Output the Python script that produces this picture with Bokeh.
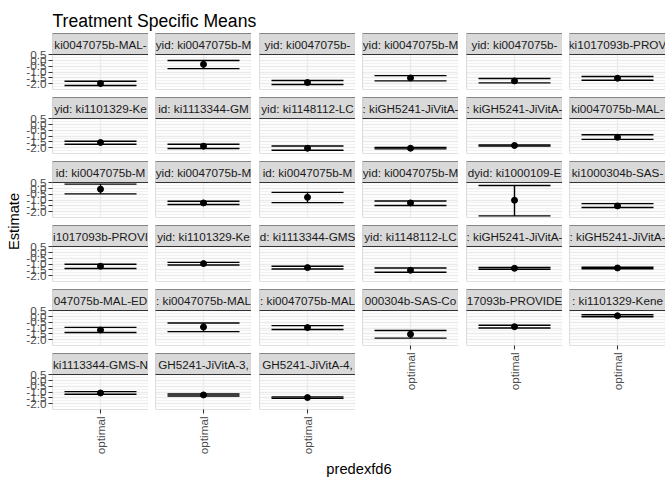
import numpy as np
from bokeh.plotting import figure
from bokeh.layouts import row, column
from bokeh.models import (Range1d, FactorRange, FixedTicker, PrintfTickFormatter,
                          Whisker, TeeHead, ColumnDataSource, BoxAnnotation)
from bokeh.embed import file_html
from bokeh.resources import INLINE
from bokeh.core.properties import value

# ---------------- data ----------------
TITLE = "Treatment Specific Means"
X_TITLE = "predexfd6"
Y_TITLE = "Estimate"
CATEGORIES = ["optimal"]
Y_TICKS = [-2.0, -1.5, -1.0, -0.5, 0.0, 0.5]
Y_MINOR = [-2.25, -1.75, -1.25, -0.75, -0.25, 0.25]

STRIPS = [
    "ki0047075b-MAL-", "yid: ki0047075b-M", "yid: ki0047075b-", "yid: ki0047075b-M", "yid: ki0047075b-", "ki1017093b-PROV",
    "yid: ki1101329-Ke", "id: ki1113344-GM", "yid: ki1148112-LC", ": kiGH5241-JiVitA-", ": kiGH5241-JiVitA-", "ki0047075b-MAL-",
    "id: ki0047075b-M", "yid: ki0047075b-M", "id: ki0047075b-M", "yid: ki0047075b-M", "dyid: ki1000109-E", "ki1000304b-SAS-",
    "i1017093b-PROVI", "yid: ki1101329-Ke", "d: ki1113344-GMS", "yid: ki1148112-LC", ": kiGH5241-JiVitA-", ": kiGH5241-JiVitA-",
    "047075b-MAL-ED", ": ki0047075b-MAL", ": ki0047075b-MAL", "000304b-SAS-Co", "17093b-PROVIDE", ": ki1101329-Kene",
    "ki1113344-GMS-N", "GH5241-JiVitA-3,", "GH5241-JiVitA-4,",
]
ESTIMATE = [
    -2.00, -0.33, -1.91, -1.51, -1.77, -1.54,
    -1.56, -1.88, -2.06, -2.06, -1.82, -1.11,
    -0.05, -1.25, -0.76, -1.25, -1.02, -1.51,
    -1.19, -0.96, -1.31, -1.54, -1.37, -1.34,
    -1.17, -0.91, -0.96, -1.54, -0.88, 0.07,
    -1.08, -1.25, -1.48,
]
UPPER = [
    -1.80, 0.01, -1.74, -1.31, -1.56, -1.39,
    -1.45, -1.71, -1.86, -2.00, -1.77, -0.88,
    0.39, -1.11, -0.33, -1.08, 0.27, -1.31,
    -1.02, -0.85, -1.19, -1.34, -1.30, -1.28,
    -0.94, -0.56, -0.79, -1.21, -0.76, 0.16,
    -0.96, -1.17, -1.42,
]
LOWER = [
    -2.17, -0.70, -2.08, -1.77, -1.94, -1.71,
    -1.71, -2.08, -2.23, -2.12, -1.87, -1.29,
    -0.46, -1.39, -1.22, -1.48, -2.38, -1.65,
    -1.39, -1.08, -1.43, -1.71, -1.45, -1.41,
    -1.39, -1.31, -1.13, -1.88, -0.99, -0.01,
    -1.19, -1.34, -1.54,
]

# ---------------- style / layout ----------------
NCOL = 6
FONT = "Liberation Sans"
FRAME_W, PANEL_H, STRIP_H, GAP_V = 96, 35, 21, 8
LEFT_GAPS = [30, 7, 8, 7, 8, 7]
YLAB_W = 22
TOP_H = 33
AXIS_H = 46
BOTTOM_H = 25
GRID_C = "#EBEBEB"
DARK = "#333333"
TICK_C = "#4D4D4D"

lo_all, hi_all = min(LOWER), max(UPPER)
pad = 0.05 * (hi_all - lo_all)
y_bot, y_pan = lo_all - pad, hi_all + pad
y_top = y_pan + (y_pan - y_bot) * STRIP_H / PANEL_H
head_px = FRAME_W * 0.9 / 1.2

n = len(ESTIMATE)
last_in_col = {}
for i in range(n):
    last_in_col[i % NCOL] = i

stacks = [[] for _ in range(NCOL)]
for i in range(n):
    col = i % NCOL
    is_bottom = last_in_col[col] == i
    p = figure(x_range=FactorRange(factors=CATEGORIES, range_padding=0.1,
                                   range_padding_units="absolute"),
               y_range=Range1d(y_bot, y_top),
               frame_width=FRAME_W, frame_height=PANEL_H + STRIP_H,
               min_border_left=LEFT_GAPS[col], min_border_right=0,
               min_border_top=0, min_border_bottom=(AXIS_H if is_bottom else GAP_V),
               output_backend="svg", toolbar_location=None)
    p.background_fill_color = "white"
    p.border_fill_color = "white"
    p.outline_line_color = None

    p.ygrid.ticker = FixedTicker(ticks=Y_TICKS, minor_ticks=Y_MINOR)
    p.ygrid.grid_line_color = GRID_C
    p.ygrid.grid_line_width = 1.4
    p.ygrid.minor_grid_line_color = GRID_C
    p.ygrid.minor_grid_line_width = 0.7
    p.xgrid.grid_line_color = GRID_C
    p.xgrid.grid_line_width = 1.4

    if col == 0:
        ax = p.yaxis[0]
        ax.ticker = FixedTicker(ticks=Y_TICKS)
        ax.formatter = PrintfTickFormatter(format="%.1f")
        ax.axis_line_color = None
        ax.major_tick_out = 4
        ax.major_tick_in = 0
        ax.major_tick_line_color = DARK
        ax.major_tick_line_width = 1.1
        ax.minor_tick_line_color = None
        ax.major_label_standoff = 2
        ax.major_label_text_font = FONT
        ax.major_label_text_font_size = "11.7px"
        ax.major_label_text_color = TICK_C
    else:
        p.yaxis.visible = False

    if is_bottom:
        xa = p.xaxis[0]
        xa.axis_line_color = None
        xa.major_tick_out = 4
        xa.major_tick_in = 0
        xa.major_tick_line_color = DARK
        xa.major_tick_line_width = 1.1
        xa.minor_tick_line_color = None
        xa.major_label_orientation = np.pi / 2
        xa.major_label_standoff = 3
        xa.major_label_text_font = FONT
        xa.major_label_text_font_size = "11.7px"
        xa.major_label_text_color = TICK_C
    else:
        p.xaxis.visible = False

    src = ColumnDataSource(dict(x=[CATEGORIES[0]], est=[ESTIMATE[i]],
                                lo=[LOWER[i]], up=[UPPER[i]]))
    w = Whisker(base="x", upper="up", lower="lo", source=src, dimension="height",
                line_color="black", line_width=1.4,
                upper_head=TeeHead(size=head_px, line_color="black", line_width=1.4),
                lower_head=TeeHead(size=head_px, line_color="black", line_width=1.4))
    p.add_layout(w)
    p.scatter("x", "est", source=src, size=6, color="black")

    # strip
    ymid = (y_pan + y_top) / 2
    p.rect(x=[CATEGORIES[0]], y=[ymid], width=2, height=(y_top - y_pan),
           fill_color="#D9D9D9", line_color=DARK, line_width=1.1)
    p.text(x=[CATEGORIES[0]], y=[ymid], text=[STRIPS[i]], text_align="center",
           text_baseline="middle", text_font=value(FONT),
           text_font_size=value("11.7px"), text_color="#1A1A1A")
    # border around panel + strip, drawn on top of the grid
    p.add_layout(BoxAnnotation(fill_color=None, fill_alpha=0, line_color=DARK,
                               line_width=1.1))
    stacks[col].append(p)


def text_fig(w, h, x, y, txt, size, angle=0.0, align="left", baseline="middle"):
    f = figure(frame_width=w, frame_height=h, x_range=Range1d(0, w), y_range=Range1d(0, h),
               min_border_left=0, min_border_right=0, min_border_top=0, min_border_bottom=0,
               output_backend="svg", toolbar_location=None)
    f.axis.visible = False
    f.grid.visible = False
    f.outline_line_color = None
    f.text(x=[x], y=[y], text=[txt], angle=angle, text_align=align, text_baseline=baseline,
           text_font=value(FONT), text_font_size=value(size), text_color="black")
    return f


stack_h = (len(stacks[0]) - 1) * (PANEL_H + STRIP_H + GAP_V) + PANEL_H + STRIP_H + AXIS_H
panels_top, panels_bottom = TOP_H, TOP_H + (len(stacks[0]) - 1) * (PANEL_H + STRIP_H + GAP_V) + PANEL_H + STRIP_H
ylab_center = (panels_top + panels_bottom) / 2 - TOP_H
ylab = text_fig(YLAB_W, stack_h, 13.5, stack_h - ylab_center, Y_TITLE, "14.7px",
                angle=np.pi / 2, align="center", baseline="middle")

total_w = YLAB_W + sum(LEFT_GAPS) + NCOL * FRAME_W
panel_left = YLAB_W + LEFT_GAPS[0]
title = text_fig(total_w, TOP_H, panel_left, TOP_H - 20.7, TITLE, "17.6px",
                 align="left", baseline="alphabetic")
xcenter = (panel_left + total_w) / 2
xlab = text_fig(total_w, BOTTOM_H, xcenter, BOTTOM_H - 11, X_TITLE, "14.7px",
                align="center", baseline="middle")

grid_row = row(ylab, *[column(*s) for s in stacks])
layout = column(title, grid_row, xlab)

open("out.html", "w").write(file_html(layout, INLINE))
